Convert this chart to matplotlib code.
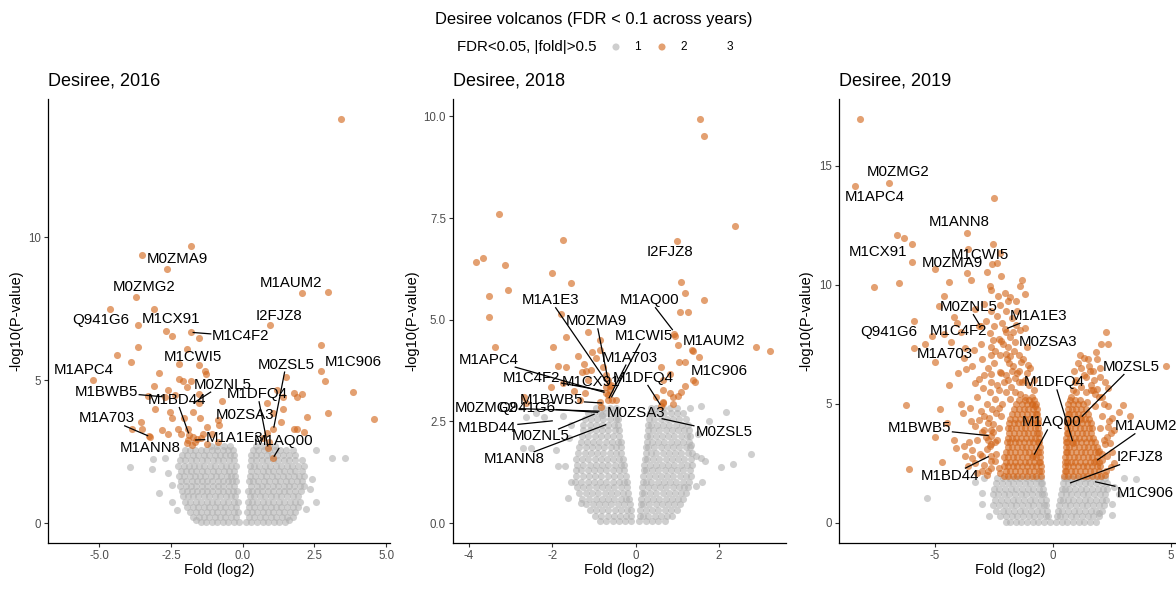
import matplotlib
matplotlib.use("Agg")
import matplotlib.pyplot as plt
import numpy as np

plt.rcParams['font.family'] = ['Liberation Sans', 'DejaVu Sans']
plt.rcParams['axes.unicode_minus'] = False

# ======================= DATA =======================
years = ["2016", "2018", "2019"]
legend_levels = ["1", "2", "3"]

# ---- 2016: non-significant proteins (grey), rows of (-log10 p, [fold values]) ----
grey16_rows = [
    (0.05, [-1.44, -1.27, -1.06, -0.9, -0.68, -0.51, -0.3, -0.13, 0.12, 0.3, 0.49, 0.7, 0.87, 1.08, 1.25, 1.46]),
    (0.22, [-1.72, -1.53, -1.35, -1.16, -0.98, -0.79, -0.6, -0.41, -0.23, 0.22, 0.4, 0.59, 0.78, 0.97, 1.17, 1.36, 1.55, 1.74]),
    (0.4, [-1.85, -1.64, -1.45, -1.25, -1.07, -0.88, -0.69, -0.5, -0.32, -0.16, 0.15, 0.31, 0.5, 0.69, 0.88, 1.06, 1.26, 1.45, 1.64, 1.83]),
    (0.58, [-1.93, -1.74, -1.55, -1.35, -1.17, -0.97, -0.79, -0.6, -0.41, -0.24, 0.23, 0.41, 0.6, 0.79, 0.97, 1.16, 1.35, 1.55, 1.74, 1.92]),
    (0.76, [-2.02, -1.83, -1.64, -1.45, -1.26, -1.07, -0.88, -0.69, -0.5, -0.32, -0.18, 0.18, 0.32, 0.5, 0.69, 0.88, 1.07, 1.26, 1.45, 1.64, 1.83, 2.0]),
    (0.94, [-2.08, -1.9, -1.72, -1.54, -1.35, -1.16, -0.97, -0.78, -0.59, -0.41, -0.26, 0.25, 0.41, 0.59, 0.78, 0.97, 1.16, 1.35, 1.55, 1.74, 1.93]),
    (1.12, [-2.12, -1.95, -1.78, -1.6, -1.43, -1.25, -1.06, -0.87, -0.68, -0.5, -0.33, -0.2, 0.2, 0.34, 0.5, 0.68, 0.87, 1.06, 1.25, 1.44, 1.63, 1.82, 2.02]),
    (1.3, [-2.18, -1.99, -1.8, -1.62, -1.43, -1.24, -1.05, -0.86, -0.67, -0.49, -0.31, 0.3, 0.49, 0.67, 0.86, 1.05, 1.24, 1.43, 1.62, 1.8, 1.98, 2.12]),
    (1.48, [-2.14, -1.96, -1.78, -1.6, -1.42, -1.24, -1.06, -0.87, -0.68, -0.5, -0.36, -0.22, 0.22, 0.37, 0.55, 0.74, 0.93, 1.12, 1.31, 1.5, 1.69, 1.88, 2.08]),
    (1.66, [-2.22, -2.03, -1.85, -1.67, -1.49, -1.3, -1.12, -0.93, -0.74, -0.56, -0.4, -0.26, 0.27, 0.44, 0.63, 0.82, 1.01, 1.2, 1.39, 1.58, 1.77, 1.96, 2.15]),
    (1.84, [-2.16, -1.98, -1.8, -1.61, -1.42, -1.23, -1.04, -0.85, -0.66, -0.48, -0.3, 0.3, 0.5, 0.69, 0.88, 1.07, 1.26, 1.45, 1.64, 1.83, 2.05]),
    (2.02, [-2.24, -2.06, -1.88, -1.7, -1.52, -1.33, -1.14, -0.95, -0.76, -0.57, -0.4, -0.24, 0.25, 0.4, 0.58, 0.77, 0.96, 1.15, 1.34, 1.53, 1.72, 1.92, 2.12]),
    (2.2, [-2.18, -2.0, -1.81, -1.62, -1.43, -1.24, -1.05, -0.86, -0.67, -0.48, -0.3, 0.3, 0.48, 0.67, 0.86, 1.05, 1.24, 1.43, 1.62, 1.82, 2.05]),
    (2.38, [-2.12, -1.93, -1.74, -1.55, -1.36, -1.17, -0.98, -0.79, -0.6, -0.43, -0.29, 0.3, 0.46, 0.64, 0.83, 1.02, 1.21, 1.4, 1.6, 1.82]),
    (2.56, [-2.02, -1.84, -1.65, -1.46, -1.27, -1.08, -0.89, -0.7, -0.52, -0.34, 0.36, 0.54, 0.73, 0.92, 1.11, 1.3, 1.52, 1.75]),
    (2.7, [-1.1, -0.88, -0.66, -0.45, 0.48, 0.7, 0.92, 1.14]),
]
grey16_extra_x = [-3.93, -3.17, -3.14, -2.93, -2.47, -2.61, -2.7, -2.45, 3.10, 3.57, 2.56, 2.54, 2.4, 2.35, -2.3, 2.2,
                  -1.62, 1.62]
grey16_extra_y = [1.96, 1.89, 2.24, 1.05, 1.34, 1.75, 2.3, 0.75, 2.27, 2.30, 0.76, 2.56, 1.55, 1.2, 0.45, 0.5,
                  0.12, 0.1]

# ---- 2016: significant proteins (orange) ----
orange16_x = [3.41, -1.81, -3.50, -2.64, 2.08, 2.96, -3.73, -4.63, -3.09, -3.66, 0.96, -2.66, -2.47, -1.81, -1.51,
              2.72, -3.66, -1.95, -4.38, -3.90, -2.23, -1.51, -1.32, 2.72, -2.93, -1.28, -5.20, -2.23, -2.09, -1.81,
              2.86, 1.50, -3.10, -1.95, 3.83, 1.77, 2.08, 1.21, 1.42, 1.88, -3.31, -2.60, -2.35, -1.51, -0.72,
              0.84, -1.51, -3.05, -2.53, -1.73, 1.06, 1.39, 2.96, 4.59, -3.55, -2.46, -2.04, -1.49, -0.87, 2.24,
              1.34, -3.87, -3.50, -2.80, -2.24, -1.89, -1.25, -0.84, 1.79, 1.89, 1.07, -3.25, -2.59, -2.16, -1.72,
              -1.39, -1.06, 2.14, 0.84, -1.89, -1.66, -1.25, -0.85, -1.78, 0.93, 0.70, -1.95, -1.6, -1.45, -2.72,
              -3.23, -1.86, 0.89, 1.05]
orange16_y = [14.13, 9.69, 9.38, 8.88, 8.07, 8.10, 7.93, 7.51, 7.51, 6.93, 6.93, 6.72, 6.54, 6.68, 6.47,
              6.25, 6.16, 6.11, 5.87, 5.63, 5.56, 5.52, 5.31, 5.32, 5.25, 5.22, 5.01, 5.03, 4.96, 4.98,
              4.98, 5.12, 4.80, 4.77, 4.58, 4.56, 4.53, 4.66, 4.40, 4.40, 4.45, 4.66, 4.48, 4.51, 4.28,
              4.21, 4.19, 3.99, 3.90, 3.90, 3.86, 3.98, 3.86, 3.63, 3.53, 3.69, 3.69, 3.69, 3.61, 3.73,
              3.53, 3.31, 3.31, 3.25, 3.31, 3.31, 3.38, 3.43, 3.31, 3.31, 3.28, 3.04, 3.14, 3.14, 3.03,
              3.11, 3.11, 3.19, 3.17, 2.91, 2.85, 2.79, 2.85, 2.74, 2.85, 2.97, 2.80, 2.95, 3.0, 4.42,
              3.03, 3.08, 2.62, 2.27]

# ---- 2018: grey ----
grey18_rows = [
    (0.04, [-0.85, -0.7, -0.55, -0.4, -0.25, -0.1, 0.09, 0.24, 0.39, 0.54, 0.7]),
    (0.18, [-0.98, -0.82, -0.67, -0.52, -0.37, -0.22, -0.11, 0.1, 0.17, 0.31, 0.46, 0.61, 0.76, 0.88]),
    (0.32, [-1.1, -0.95, -0.8, -0.65, -0.5, -0.35, -0.2, -0.12, 0.11, 0.25, 0.4, 0.55, 0.7, 0.85, 0.99]),
    (0.46, [-1.2, -1.03, -0.88, -0.73, -0.58, -0.43, -0.28, -0.14, 0.13, 0.19, 0.33, 0.48, 0.63, 0.78, 0.93, 1.07]),
    (0.6, [-1.28, -1.11, -0.96, -0.81, -0.66, -0.51, -0.36, -0.22, -0.16, 0.14, 0.27, 0.42, 0.57, 0.72, 0.87, 1.02, 1.15]),
    (0.74, [-1.35, -1.19, -1.04, -0.89, -0.74, -0.59, -0.44, -0.3, -0.18, 0.15, 0.21, 0.35, 0.5, 0.65, 0.8, 0.95, 1.1, 1.2]),
    (0.88, [-1.4, -1.26, -1.11, -0.96, -0.81, -0.66, -0.51, -0.36, -0.2, 0.16, 0.3, 0.44, 0.59, 0.74, 0.89, 1.04, 1.17, 1.26]),
    (1.02, [-1.45, -1.3, -1.15, -1.0, -0.85, -0.7, -0.55, -0.4, -0.27, -0.21, 0.17, 0.24, 0.38, 0.53, 0.68, 0.83, 0.98, 1.13, 1.28]),
    (1.16, [-1.42, -1.27, -1.12, -0.97, -0.82, -0.67, -0.52, -0.37, -0.24, 0.19, 0.32, 0.46, 0.61, 0.76, 0.91, 1.06, 1.21, 1.34]),
    (1.3, [-1.44, -1.3, -1.15, -1.0, -0.85, -0.7, -0.55, -0.4, -0.27, 0.2, 0.26, 0.4, 0.55, 0.7, 0.85, 1.0, 1.15, 1.3]),
    (1.44, [-1.4, -1.25, -1.1, -0.95, -0.8, -0.65, -0.5, -0.35, -0.28, 0.21, 0.34, 0.48, 0.63, 0.78, 0.93, 1.08, 1.23, 1.36]),
    (1.58, [-1.42, -1.28, -1.13, -0.98, -0.83, -0.68, -0.53, -0.39, -0.3, 0.23, 0.28, 0.42, 0.57, 0.72, 0.87, 1.02, 1.17, 1.32]),
    (1.72, [-1.38, -1.22, -1.07, -0.92, -0.77, -0.62, -0.47, -0.34, 0.24, 0.36, 0.5, 0.65, 0.8, 0.95, 1.1, 1.25, 1.36]),
    (1.86, [-1.35, -1.2, -1.05, -0.9, -0.75, -0.6, -0.46, -0.35, 0.26, 0.31, 0.45, 0.6, 0.75, 0.9, 1.05, 1.2, 1.3]),
    (2.0, [-1.32, -1.17, -1.02, -0.87, -0.72, -0.57, -0.42, -0.36, 0.27, 0.39, 0.54, 0.69, 0.84, 0.99, 1.14, 1.28]),
    (2.14, [-1.28, -1.13, -0.98, -0.83, -0.68, -0.53, -0.39, 0.28, 0.34, 0.48, 0.63, 0.78, 0.93, 1.08, 1.23, 1.3]),
    (2.28, [-1.26, -1.1, -0.95, -0.8, -0.65, -0.5, -0.4, 0.3, 0.42, 0.57, 0.72, 0.87, 1.02, 1.17, 1.28]),
    (2.42, [-1.25, -1.1, -0.95, -0.8, -0.65, -0.52, -0.41, 0.31, 0.37, 0.51, 0.66, 0.81, 0.96, 1.11, 1.25]),
    (2.56, [-1.22, -1.07, -0.92, -0.77, -0.62, -0.47, -0.43, 0.33, 0.45, 0.6, 0.75, 0.9, 1.05, 1.2]),
    (2.7, [-1.15, -1.0, -0.85, -0.7, -0.55, -0.44, 0.34, 0.4, 0.54, 0.69, 0.84, 0.99, 1.14]),
    (2.84, [-0.95, -0.78, -0.62, -0.47, 0.38, 0.5, 0.66, 0.82, 1.0]),
]
grey18_extra_x = [-2.70, -2.51, -1.86, -1.70, -1.63, -1.31, 2.06, 2.33, 2.77, 2.18, 1.77, 1.58, 1.30, 1.58, 1.46,
                  1.66, 1.33, -0.80, -2.62, -1.75, -2.2, -1.55, -1.6, -1.55, 1.45, 1.5, 1.6, -2.4, -1.9]
grey18_extra_y = [1.84, 1.84, 1.41, 1.41, 0.61, 0.49, 1.39, 1.45, 1.70, 2.73, 2.50, 2.87, 2.83, 1.60, 1.64,
                  1.52, 1.93, 2.65, 2.62, 2.64, 2.6, 2.4, 2.1, 1.0, 0.9, 2.2, 1.0, 2.7, 1.8]

# ---- 2018: orange ----
orange18_x = [1.54, 1.65, -3.27, 2.38, -1.74, 1.00, -3.82, -3.66, -3.14, -2.01, -1.55, 1.08, -3.05, 1.18, -3.51,
              1.65, 1.07, 1.27, -3.51, -1.78, -1.14, 0.92, 0.94, -1.66, -0.86, -1.98, 1.01, 1.35, 1.38, 2.90,
              3.23, -3.38, -1.05, -0.85, -1.38, 1.53, -0.94, 1.04, 1.18, -1.24, -1.86, -1.66, 0.60, -1.18, -1.07,
              -1.28, -0.78, -0.70, 0.82, 1.38, 1.42, 0.65, -2.04, -1.74, -1.14, 1.18, -1.48, -1.21, -0.70, -0.59,
              0.66, 0.82, 1.08, -2.68, -0.86, -0.57, -0.66, 0.50, 1.01, 0.90, 0.65, 0.65, 0.90, -0.47, -1.34,
              -2.62, -0.62, -0.66, -0.62, -0.70, -0.66, 0.62, -0.82]
orange18_y = [9.95, 9.51, 7.61, 7.30, 6.95, 6.93, 6.42, 6.52, 6.35, 6.16, 5.90, 5.93, 5.73, 5.66, 5.59,
              5.49, 5.18, 5.18, 5.07, 5.15, 4.71, 4.66, 4.59, 4.57, 4.51, 4.34, 4.37, 4.26, 4.24, 4.34,
              4.24, 4.32, 4.21, 4.26, 4.11, 4.09, 4.06, 3.96, 3.96, 3.91, 3.87, 3.83, 3.83, 3.75, 3.77,
              3.71, 3.84, 3.65, 3.66, 3.52, 3.48, 3.51, 3.34, 3.44, 3.52, 3.36, 3.25, 3.21, 3.34, 3.40,
              3.28, 3.21, 3.23, 3.09, 2.99, 3.02, 3.16, 3.11, 3.13, 3.11, 2.99, 2.95, 2.93, 3.03, 3.03,
              2.95, 3.36, 3.52, 3.28, 3.20, 3.03, 2.87, 2.85]

# ---- 2019: grey ----
grey19_rows = [
    (0.05, [-2.0, -1.82, -1.58, -1.34, -1.1, -0.86, -0.62, -0.38, -0.14, 0.14, 0.38, 0.62, 0.86, 1.1, 1.34, 1.58, 1.82]),
    (0.28, [-2.25, -1.99, -1.75, -1.51, -1.27, -1.03, -0.79, -0.55, -0.31, -0.19, 0.19, 0.3, 0.52, 0.76, 1.0, 1.24, 1.48, 1.72, 1.96]),
    (0.51, [-2.4, -2.13, -1.89, -1.65, -1.41, -1.17, -0.93, -0.69, -0.45, -0.23, 0.23, 0.4, 0.64, 0.88, 1.12, 1.36, 1.6, 1.84, 2.08]),
    (0.74, [-2.52, -2.26, -2.02, -1.78, -1.54, -1.3, -1.06, -0.82, -0.58, -0.36, -0.27, 0.27, 0.5, 0.74, 0.98, 1.22, 1.46, 1.7, 1.94, 2.18]),
    (0.97, [-2.45, -2.18, -1.94, -1.7, -1.46, -1.22, -0.98, -0.74, -0.5, -0.31, 0.31, 0.42, 0.63, 0.87, 1.11, 1.35, 1.59, 1.83, 2.07, 2.25]),
    (1.2, [-2.55, -2.32, -2.08, -1.84, -1.6, -1.36, -1.12, -0.88, -0.64, -0.45, -0.36, 0.36, 0.55, 0.79, 1.03, 1.27, 1.51, 1.75, 1.99, 2.23]),
    (1.43, [-2.5, -2.26, -2.02, -1.78, -1.54, -1.3, -1.06, -0.82, -0.6, -0.4, 0.4, 0.5, 0.7, 0.94, 1.18, 1.42, 1.66, 1.9, 2.14, 2.3]),
    (1.66, [-2.4, -2.16, -1.92, -1.68, -1.44, -1.2, -0.96, -0.72, -0.52, -0.45, 0.45, 0.63, 0.87, 1.11, 1.35, 1.59, 1.83, 2.07, 2.3]),
    (1.89, [-2.35, -2.1, -1.86, -1.62, -1.38, -1.14, -0.9, -0.66, -0.49, 0.49, 0.58, 0.78, 1.02, 1.26, 1.5, 1.74, 1.98, 2.22]),
]
grey19_extra_x = [-5.32, -2.99, 3.53, 2.49, 1.95, -3.3, -3.0, 2.6, 2.8, -2.9, 2.5, -2.7, 3.0]
grey19_extra_y = [1.05, 1.26, 1.86, 0.81, 0.42, 1.7, 0.8, 1.5, 1.2, 1.9, 0.35, 0.3, 1.9]

# ---- 2019: orange, dense core rows ----
orange19_rows = [
    (1.98, [-2.05, -1.9, -1.7, -1.5, -1.3, -1.1, -0.9, -0.7, -0.5, 0.48, 0.66, 0.86, 1.06, 1.26, 1.46, 1.66, 1.86, 2.02]),
    (2.18, [-2.0, -1.8, -1.6, -1.4, -1.2, -1.0, -0.8, -0.6, -0.52, 0.5, 0.56, 0.76, 0.96, 1.16, 1.36, 1.56, 1.76, 1.96]),
    (2.38, [-2.08, -1.9, -1.7, -1.5, -1.3, -1.1, -0.9, -0.7, -0.52, 0.51, 0.66, 0.86, 1.06, 1.26, 1.46, 1.66, 1.86, 2.0]),
    (2.58, [-2.0, -1.8, -1.6, -1.4, -1.2, -1.0, -0.8, -0.6, -0.53, 0.52, 0.58, 0.76, 0.96, 1.16, 1.36, 1.56, 1.76, 1.94]),
    (2.78, [-2.05, -1.9, -1.7, -1.5, -1.3, -1.1, -0.9, -0.7, -0.54, 0.53, 0.68, 0.88, 1.08, 1.28, 1.48, 1.68, 1.88]),
    (2.98, [-1.98, -1.8, -1.6, -1.4, -1.2, -1.0, -0.8, -0.62, -0.55, 0.54, 0.6, 0.78, 0.98, 1.18, 1.38, 1.58, 1.78, 1.9]),
    (3.18, [-1.92, -1.72, -1.52, -1.32, -1.12, -0.92, -0.72, -0.56, 0.55, 0.7, 0.9, 1.1, 1.3, 1.5, 1.7, 1.86]),
    (3.38, [-1.96, -1.82, -1.62, -1.42, -1.22, -1.02, -0.82, -0.64, -0.57, 0.56, 0.62, 0.8, 1.0, 1.2, 1.4, 1.6, 1.8]),
    (3.58, [-1.92, -1.74, -1.54, -1.34, -1.14, -0.94, -0.74, -0.58, 0.57, 0.72, 0.92, 1.12, 1.32, 1.52, 1.72]),
    (3.78, [-1.84, -1.64, -1.44, -1.24, -1.04, -0.84, -0.66, -0.6, 0.58, 0.64, 0.82, 1.02, 1.22, 1.42, 1.62]),
    (3.98, [-1.9, -1.76, -1.56, -1.36, -1.16, -0.96, -0.76, -0.61, 0.6, 0.74, 0.94, 1.14, 1.34, 1.54, 1.66]),
    (4.18, [-1.84, -1.66, -1.46, -1.26, -1.06, -0.86, -0.68, -0.62, 0.61, 0.66, 0.84, 1.04, 1.24, 1.44, 1.6]),
    (4.38, [-1.8, -1.6, -1.4, -1.2, -1.0, -0.8, -0.64, 0.62, 0.78, 0.98, 1.18, 1.38, 1.55]),
    (4.58, [-1.72, -1.5, -1.3, -1.1, -0.9, -0.72, -0.66, 0.63, 0.7, 0.88, 1.08, 1.28, 1.48]),
    (4.78, [-1.64, -1.44, -1.24, -1.04, -0.84, -0.68, 0.64, 0.8, 1.0, 1.2, 1.4]),
    (4.98, [-1.55, -1.3, -1.1, -0.9, -0.7, 0.66, 0.86, 1.06, 1.26]),
    (5.18, [-1.45, -1.2, -1.0, -0.78, 0.72, 0.94, 1.16]),
]
# ---- 2019: orange, scattered ----
orange19_x = [-8.16, -8.40, -6.93, -2.51, -3.62, -6.61, -6.29, -5.95, -2.53, -3.60, -2.25, -5.95, -5.00, -2.36, -2.58,
              -3.63, -2.80, -3.48, -6.51, -7.57, -4.42, -2.18, -2.67, -2.60, -1.29, -1.37, -2.34, -1.91, -2.25, -4.63,
              -4.84, -2.01, -4.17, -2.36, -5.89, -4.05, -3.11, -2.50, -1.41, -4.62, -5.10, -2.68, -2.29, -2.18, -5.41,
              -5.89, -3.74, -3.05, -3.35, -2.64, -1.92, -1.65, -5.00, -3.77, -2.60, -2.22, -1.43, -1.33, -3.66, -3.42,
              -2.49, -1.84, -1.07, -2.90, -2.60, -2.25, -1.51, -3.14, -3.31, -2.64, -2.08, -1.16, -2.97, -2.29, -1.79,
              -6.24, -3.52, -2.57, -2.27, -2.92, -3.14, -2.53, -3.31, -2.92, -4.19, -4.12, -2.67, -3.42, -3.74, -2.98,
              -4.70, -6.10, -2.92, -2.64, -2.25, -3.42, -3.77,
              -2.3, -2.4, -2.35, -2.3, -2.2, -2.15, -2.0, -1.8, -1.6, -1.4, -1.2, -0.9, -0.8, -1.0, -1.3,
              -1.6, -1.9, -2.2, -1.45, -1.25, -1.7, -1.95, -2.1, -1.8, -1.6, -1.55, -1.75, -2.0, -1.8, -1.55,
              -1.2, -1.1, -0.95, -0.8, -2.7, -2.55, -2.6, -2.45, -2.75, -2.85,
              -3.2, -3.0, -2.8, -3.6, -3.3, -2.6, -3.1, -2.8, -3.55, -3.2, -2.75, -2.45, -3.0, -2.6, -3.45,
              -2.75, -2.4, -3.05, -2.8, -2.45, -3.2, -2.65, -2.35, -2.0, -1.75, -2.75, -3.0, -2.45, -2.0, -1.8,
              -2.55, -2.0, -1.7, -2.15, -2.85, -2.6, -1.5, -1.2, -2.9, -3.3, -3.9, -4.3, -4.0, -4.4, -3.9,
              -4.5, -5.0, -4.8, -3.8, -1.45, -1.1, -0.9, -0.75,
              4.80, 2.26, 2.33, 2.02, 1.85, 1.16, 1.31, 1.88, 1.06, 1.57, 1.40, 2.00, 1.60, 2.34, 1.89,
              2.09, 2.99, 2.80, 3.28, 2.37, 2.34, 2.47, 2.16, 2.44, 2.09, 2.47, 1.95,
              2.1, 2.0, 2.2, 2.1, 2.25, 1.8, 1.6, 1.4, 1.2, 1.0, 0.85, 0.75, 1.0, 1.3, 0.9,
              1.55, 1.75, 1.95, 2.15, 2.0,
              1.5, 1.7, 1.2, 0.95, 2.2, 2.35, 2.5, 2.6, 2.3, 2.5, 2.3, 2.6, 2.2, 1.7, 1.45, 1.8,
              -3.06, -2.01, 1.17, 0.86, -0.83, -2.64, 1.81, -2.64]
orange19_y = [16.98, 14.13, 14.28, 13.66, 12.18, 12.10, 11.97, 11.72, 11.71, 11.51, 11.33, 10.95, 10.67, 10.91, 10.87,
              10.48, 10.52, 10.21, 10.06, 9.90, 10.11, 10.38, 9.93, 9.79, 10.20, 9.93, 9.54, 9.34, 9.17, 9.51,
              9.13, 9.65, 8.66, 8.70, 8.48, 8.39, 8.29, 8.29, 8.11, 7.94, 7.83, 7.97, 7.72, 7.66, 7.52,
              7.36, 7.34, 7.52, 7.27, 7.38, 7.37, 7.23, 6.76, 6.92, 7.06, 7.06, 7.06, 6.74, 6.48, 6.57,
              6.71, 6.71, 6.64, 6.22, 6.27, 6.32, 6.29, 6.06, 5.87, 5.94, 5.94, 6.01, 5.66, 5.59, 5.71,
              4.97, 4.83, 4.78, 4.83, 4.48, 4.34, 4.17, 4.06, 3.92, 3.50, 3.15, 3.22, 3.08, 2.80, 2.83,
              2.56, 2.28, 2.45, 2.31, 2.10, 2.73, 3.22,
              2.3, 2.9, 3.5, 4.0, 4.5, 5.0, 5.5, 5.2, 5.5, 5.4, 5.3, 5.3, 5.6, 5.8, 5.9,
              6.1, 6.0, 6.3, 6.4, 6.9, 6.6, 6.9, 7.5, 7.8, 7.6, 8.3, 8.6, 8.9, 9.5, 9.3,
              8.2, 7.4, 6.5, 6.0, 4.4, 3.8, 3.3, 2.6, 2.2, 3.6,
              2.1, 2.2, 2.0, 2.4, 2.5, 2.6, 2.9, 3.1, 3.4, 3.5, 3.5, 3.4, 3.8, 3.9, 4.3,
              4.2, 4.6, 4.7, 5.0, 5.2, 5.3, 5.5, 5.8, 6.2, 6.4, 6.5, 6.9, 7.2, 7.1, 7.0,
              7.7, 8.0, 8.0, 8.4, 8.5, 8.9, 8.9, 9.6, 9.2, 9.0, 8.0, 7.6, 6.3, 5.8, 5.0,
              4.2, 3.6, 4.8, 4.6, 5.9, 6.3, 5.0, 4.9,
              6.60, 8.00, 7.52, 7.52, 7.16, 7.06, 6.92, 6.87, 6.71, 6.36, 6.13, 6.13, 5.80, 5.66, 5.62,
              5.31, 4.97, 4.64, 4.50, 4.27, 4.03, 3.78, 3.50, 3.36, 2.66, 2.35, 3.01,
              4.5, 4.0, 3.3, 2.9, 2.2, 5.4, 5.6, 5.5, 5.7, 5.5, 5.6, 5.3, 6.0, 6.2, 6.4,
              6.6, 6.0, 5.3, 5.0, 6.5,
              6.9, 6.4, 6.5, 5.9, 5.9, 4.9, 4.4, 3.9, 3.6, 3.0, 2.8, 2.5, 2.0, 5.6, 5.1, 4.9,
              8.25, 8.14, 4.41, 3.36, 2.80, 3.66, 2.59, 2.83]

# ---- labelled proteins: name, fold, -log10 p (point), per year ----
label_names = ["M0ZMA9", "M0ZMG2", "Q941G6", "M1CX91", "M1C4F2", "M1AUM2", "I2FJZ8", "M1CWI5", "M1APC4",
               "M0ZSL5", "M1C906", "M0ZNL5", "M1BWB5", "M1DFQ4", "M1BD44", "M0ZSA3", "M1A703", "M1A1E3",
               "M1AQ00", "M1ANN8"]
point16 = {"M0ZMA9": (-2.64, 8.88), "M0ZMG2": (-3.73, 7.93), "Q941G6": (-4.63, 7.51), "M1CX91": (-2.66, 6.72),
           "M1C4F2": (-1.81, 6.68), "M1AUM2": (2.08, 8.07), "I2FJZ8": (0.96, 6.93), "M1CWI5": (-1.51, 5.52),
           "M1APC4": (-5.20, 5.01), "M0ZSL5": (1.07, 3.28), "M1C906": (2.72, 5.32), "M0ZNL5": (-1.78, 4.16),
           "M1BWB5": (-2.72, 4.42), "M1DFQ4": (0.89, 2.62), "M1BD44": (-1.86, 3.08), "M0ZSA3": (0.84, 3.17),
           "M1A703": (-3.23, 3.03), "M1A1E3": (-1.72, 2.91), "M1AQ00": (1.05, 2.27), "M1ANN8": (-3.25, 3.04)}
point18 = {"I2FJZ8": (1.00, 6.93), "M1A1E3": (-0.62, 3.36), "M1AQ00": (0.92, 4.71), "M0ZMA9": (-0.66, 3.52),
           "M1CWI5": (-0.6, 3.05), "M1AUM2": (1.35, 4.26), "M1APC4": (-0.70, 3.20), "M1A703": (-0.66, 3.03),
           "M1C906": (1.42, 3.48), "M1C4F2": (-0.70, 3.24), "M1CX91": (-0.62, 3.28), "M1DFQ4": (0.62, 2.87),
           "M1BWB5": (-0.75, 2.95), "M0ZMG2": (-0.82, 2.75), "Q941G6": (-0.85, 2.72), "M0ZSA3": (-0.5, 2.9),
           "M1BD44": (-1.94, 2.52), "M0ZNL5": (-0.94, 2.70), "M0ZSL5": (0.58, 2.58), "M1ANN8": (-0.66, 2.44)}
point19 = {"M0ZMG2": (-6.93, 14.28), "M1APC4": (-8.40, 14.13), "M1ANN8": (-3.62, 12.18), "M1CX91": (-6.61, 12.10),
           "M1CWI5": (-3.60, 11.51), "M0ZMA9": (-5.00, 10.67), "M0ZNL5": (-3.06, 8.25), "M1A1E3": (-2.01, 8.14),
           "Q941G6": (-5.95, 8.48), "M1C4F2": (-4.62, 7.94), "M0ZSA3": (-1.65, 7.23), "M1A703": (-5.00, 6.76),
           "M0ZSL5": (1.17, 4.41), "M1DFQ4": (0.86, 3.36), "M1AQ00": (-0.83, 2.80), "M1BWB5": (-2.64, 3.66),
           "M1AUM2": (1.81, 2.59), "I2FJZ8": (0.65, 1.65), "M1BD44": (-2.64, 2.83), "M1C906": (1.71, 1.75)}

# ======================= LAYOUT (label placement, repel result) =======================
lab16 = {"M0ZMA9": (-2.26, 9.23, 0), "M0ZMG2": (-3.43, 8.25, 0), "Q941G6": (-4.94, 7.11, 0), "M1CX91": (-2.50, 7.14, 0),
         "M1C4F2": (-0.06, 6.54, 1), "M1AUM2": (1.68, 8.41, 0), "I2FJZ8": (1.27, 7.25, 0), "M1CWI5": (-1.75, 5.81, 0),
         "M1APC4": (-5.53, 5.36, 0), "M0ZSL5": (1.51, 5.55, 1), "M1C906": (3.86, 5.65, 0), "M0ZNL5": (-0.71, 4.85, 1),
         "M1BWB5": (-4.76, 4.60, 1), "M1DFQ4": (0.52, 4.51, 1), "M1BD44": (-2.30, 4.31, 1), "M0ZSA3": (0.08, 3.78, 0),
         "M1A703": (-4.72, 3.67, 1), "M1A1E3": (-0.27, 2.97, 1), "M1AQ00": (1.42, 2.88, 1), "M1ANN8": (-3.23, 2.65, 0)}
lab18 = {"I2FJZ8": (0.82, 6.66, 0), "M1A1E3": (-2.04, 5.48, 1), "M1AQ00": (0.34, 5.48, 1), "M0ZMA9": (-0.94, 4.96, 1),
         "M1CWI5": (0.20, 4.59, 1), "M1AUM2": (1.88, 4.48, 0), "M1APC4": (-3.52, 4.02, 1), "M1A703": (-0.14, 4.07, 1),
         "M1C906": (2.01, 3.75, 0), "M1C4F2": (-2.50, 3.58, 1), "M1CX91": (-1.06, 3.46, 1), "M1DFQ4": (0.18, 3.57, 1),
         "M1BWB5": (-2.02, 3.03, 1), "M0ZMG2": (-3.58, 2.84, 1), "Q941G6": (-2.62, 2.84, 1), "M0ZSA3": (0.01, 2.70, 0),
         "M1BD44": (-3.56, 2.35, 1), "M0ZNL5": (-2.28, 2.13, 1), "M0ZSL5": (2.12, 2.23, 1), "M1ANN8": (-2.91, 1.57, 1)}
lab19 = {"M0ZMG2": (-6.55, 14.73, 0), "M1APC4": (-7.54, 13.68, 0), "M1ANN8": (-3.98, 12.64, 0), "M1CX91": (-7.42, 11.36, 0),
         "M1CWI5": (-3.11, 11.23, 0), "M0ZMA9": (-4.24, 10.91, 0), "M0ZNL5": (-3.56, 9.06, 1), "M1A1E3": (-0.59, 8.70, 1),
         "Q941G6": (-6.95, 8.00, 0), "M1C4F2": (-4.01, 8.04, 0), "M0ZSA3": (-0.21, 7.59, 0), "M1A703": (-4.59, 7.10, 0),
         "M0ZSL5": (3.33, 6.55, 1), "M1DFQ4": (0.08, 5.90, 1), "M1AQ00": (-0.06, 4.22, 1), "M1BWB5": (-5.66, 3.97, 1),
         "M1AUM2": (3.93, 4.06, 1), "I2FJZ8": (3.69, 2.76, 1), "M1BD44": (-4.34, 1.99, 1), "M1C906": (3.90, 1.26, 1)}


def flatten(rows, ex_x, ex_y):
    xs, ys = [], []
    for y, row in rows:
        xs.extend(row)
        ys.extend([y] * len(row))
    return np.array(xs + list(ex_x)), np.array(ys + list(ex_y))


W, H = 1176, 596
GREY = '#B0B0B0'
ORANGE = '#D2661A'
S = 26

fig = plt.figure(figsize=(W / 100, H / 100), dpi=100)


def add_ax(l, r, t=99, b=543):
    return fig.add_axes([l / W, 1 - b / H, (r - l) / W, (b - t) / H])


panels = [
    dict(ax=add_ax(48, 390), xlim=(-6.78, 5.13), ylim=(-0.69, 14.84),
         xt=[-5, -2.5, 0, 2.5, 5], xtl=["-5.0", "-2.5", "0.0", "2.5", "5.0"],
         yt=[0, 5, 10], ytl=["0", "5", "10"],
         grey=flatten(grey16_rows, grey16_extra_x, grey16_extra_y),
         orange=(np.array(orange16_x), np.array(orange16_y)),
         pts=point16, labs=lab16, title="Desiree, 2016", ylabx=16.5, cx=219),
    dict(ax=add_ax(453, 786), xlim=(-4.38, 3.61), ylim=(-0.49, 10.43),
         xt=[-4, -2, 0, 2], xtl=["-4", "-2", "0", "2"],
         yt=[0, 2.5, 5, 7.5, 10], ytl=["0.0", "2.5", "5.0", "7.5", "10.0"],
         grey=flatten(grey18_rows, grey18_extra_x, grey18_extra_y),
         orange=(np.array(orange18_x), np.array(orange18_y)),
         pts=point18, labs=lab18, title="Desiree, 2018", ylabx=412.5, cx=619.5),
    dict(ax=add_ax(839, 1181.7), xlim=(-9.06, 5.46), ylim=(-0.84, 17.8),
         xt=[-5, 0, 5], xtl=["-5", "0", "5"],
         yt=[0, 5, 10, 15], ytl=["0", "5", "10", "15"],
         grey=flatten(grey19_rows, grey19_extra_x, grey19_extra_y),
         orange=flatten(orange19_rows, orange19_x, orange19_y),
         pts=point19, labs=lab19, title="Desiree, 2019", ylabx=806, cx=1010),
]

texts = []
for p in panels:
    ax = p['ax']
    ax.set_autoscale_on(False)
    ax.set_xlim(*p['xlim'])
    ax.set_ylim(*p['ylim'])
    gx, gy = p['grey']
    ax.scatter(gx, gy, s=S, c=GREY, alpha=0.6, linewidths=0, zorder=2)
    ox, oy = p['orange']
    ax.scatter(ox, oy, s=S, c=ORANGE, alpha=0.62, linewidths=0, zorder=3)
    for sp in ['top', 'right']:
        ax.spines[sp].set_visible(False)
    for sp in ['left', 'bottom']:
        ax.spines[sp].set_linewidth(0.9)
        ax.spines[sp].set_color('black')
    ax.set_xticks(p['xt'])
    ax.set_xticklabels(p['xtl'])
    ax.set_yticks(p['yt'])
    ax.set_yticklabels(p['ytl'])
    ax.tick_params(axis='both', length=2.8, width=0.8, color='#333333', labelsize=8.3,
                   labelcolor='#4D4D4D', pad=2.2)
    ax.set_facecolor('none')
    l, b, w, h = ax.get_position().bounds
    fig.text(p['cx'] / W, 1 - 570 / H, "Fold (log2)", ha='center', va='center', fontsize=10.5)
    fig.text(p['ylabx'] / W, 1 - 321 / H, "-log10(P-value)", ha='center', va='center',
             rotation=90, fontsize=10.5)
    fig.text(l, 1 - 81.5 / H, p['title'], ha='left', va='center', fontsize=13)
    for name in label_names:
        lx, ly, seg = p['labs'][name]
        t = ax.text(lx, ly, name, ha='center', va='center', fontsize=10.8, color='black', zorder=6)
        texts.append((ax, t, p['pts'][name], seg))

# legend / overall title
fig.text(594 / W, 1 - 19.5 / H, "Desiree volcanos (FDR < 0.1 across years)", ha='center', va='center',
         fontsize=11.9)
fig.text(457 / W, 1 - 47 / H, "FDR<0.05, |fold|>0.5", ha='left', va='center', fontsize=10.8)
lax = fig.add_axes([0, 0, 1, 1])
lax.set_xlim(0, W)
lax.set_ylim(H, 0)
lax.axis('off')
lax.scatter([616, 662], [47, 47], s=S, c=[GREY, ORANGE], alpha=0.62, linewidths=0)
for lbl, xp in zip(legend_levels, [637.5, 683.5, 730]):
    lax.text(xp, 47, lbl, ha='center', va='center', fontsize=8.6, color='black')

# repel segments: from label box edge to the point
fig.canvas.draw()
r = fig.canvas.get_renderer()
for ax, t, (px, py), seg in texts:
    if not seg:
        continue
    bb = t.get_window_extent(r)
    cx, cy = (bb.x0 + bb.x1) / 2, (bb.y0 + bb.y1) / 2
    tx, ty = ax.transData.transform((px, py))
    dx, dy = tx - cx, ty - cy
    hw, hh = bb.width / 2 + 1.5, bb.height / 2 + 0.5
    ts = []
    if abs(dx) > 1e-9:
        ts.append(hw / abs(dx))
    if abs(dy) > 1e-9:
        ts.append(hh / abs(dy))
    tt = min(ts)
    if tt >= 1:
        continue
    sx, sy = cx + tt * dx, cy + tt * dy
    L = np.hypot(tx - sx, ty - sy)
    shrink = min(2.5, L * 0.3)
    ex, ey = tx - (tx - sx) / L * shrink, ty - (ty - sy) / L * shrink
    (d0, d1) = ax.transData.inverted().transform([(sx, sy), (ex, ey)])
    ax.plot([d0[0], d1[0]], [d0[1], d1[1]], color='black', lw=0.9, zorder=5, clip_on=False)

fig.savefig("out.png", dpi=100)
